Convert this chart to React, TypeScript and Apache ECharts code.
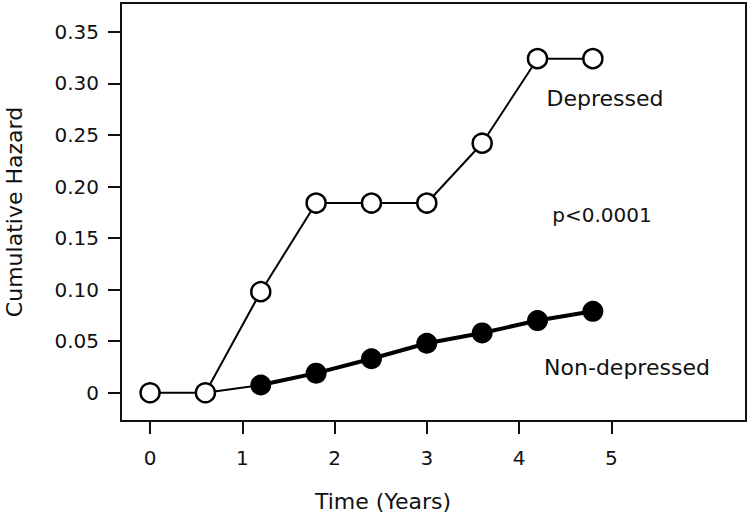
import React, { useEffect, useRef } from "react";
import * as echarts from "echarts";

const times = [0, 0.6, 1.2, 1.8, 2.4, 3.0, 3.6, 4.2, 4.8];
const depressed = [0, 0, 0.098, 0.184, 0.184, 0.184, 0.242, 0.324, 0.324];
const nonDepressed = [0, 0, 0.0075, 0.019, 0.033, 0.048, 0.058, 0.07, 0.079];
const xTicks = [0, 1, 2, 3, 4, 5];
const yTicks = [0, 0.05, 0.1, 0.15, 0.2, 0.25, 0.3, 0.35];
const labels = { depressed: "Depressed", nonDepressed: "Non-depressed", pValue: "p<0.0001" };
const axisNames = { x: "Time (Years)", y: "Cumulative Hazard" };

const FONT = "DejaVu Sans";
const X_MIN = -0.315;
const X_MAX = 6.46;
const Y_MIN = -0.0274;
const Y_MAX = 0.378;

if (typeof document !== "undefined") {
  document.body.style.margin = "0";
}

export default function App() {
  const ref = useRef<HTMLDivElement>(null);
  useEffect(() => {
    document.body.style.margin = "0";
    if (!ref.current) return;
    const chart = echarts.init(ref.current, null, { renderer: "svg" });
    const pts = (vals: number[], from: number, to: number) =>
      times.slice(from, to).map((t, i) => [t, vals[from + i]]);
    chart.setOption({
      animation: false,
      backgroundColor: "#fff",
      textStyle: { fontFamily: FONT },
      grid: {
        left: 121,
        right: 4,
        top: 3,
        bottom: 98,
        show: true,
        borderWidth: 2,
        borderColor: "#111",
        backgroundColor: "transparent",
        z: 10,
      },
      xAxis: {
        type: "value",
        min: X_MIN,
        max: X_MAX,
        splitLine: { show: false },
        axisLine: { onZero: false, lineStyle: { color: "#111", width: 2 } },
        axisTick: { customValues: xTicks, length: 13, lineStyle: { color: "#111", width: 2 } },
        axisLabel: {
          customValues: xTicks,
          margin: 27,
          fontSize: 20,
          color: "#111",
          fontFamily: FONT,
        },
      },
      yAxis: {
        type: "value",
        min: Y_MIN,
        max: Y_MAX,
        splitLine: { show: false },
        axisLine: { onZero: false, lineStyle: { color: "#111", width: 2 } },
        axisTick: { customValues: yTicks, length: 13, lineStyle: { color: "#111", width: 2 } },
        axisLabel: {
          customValues: yTicks,
          margin: 22,
          fontSize: 20,
          color: "#111",
          fontFamily: FONT,
          formatter: (v: number) => (v === 0 ? "0" : v.toFixed(2)),
        },
      },
      series: [
        {
          type: "line",
          data: pts(nonDepressed, 1, 3),
          symbol: "none",
          lineStyle: { color: "#000", width: 2 },
          z: 2,
        },
        {
          type: "line",
          name: labels.nonDepressed,
          data: pts(nonDepressed, 2, times.length),
          symbol: "circle",
          symbolSize: 21,
          itemStyle: { color: "#000" },
          lineStyle: { color: "#000", width: 4 },
          z: 3,
        },
        {
          type: "line",
          name: labels.depressed,
          data: pts(depressed, 0, times.length),
          symbol: "circle",
          symbolSize: 19,
          itemStyle: { color: "#fff", borderColor: "#000", borderWidth: 2.5 },
          lineStyle: { color: "#000", width: 2 },
          z: 4,
        },
      ],
      graphic: [
        {
          type: "text",
          x: 605,
          y: 98,
          style: { text: labels.depressed, font: `22px "${FONT}"`, fill: "#111", align: "center", verticalAlign: "middle" },
        },
        {
          type: "text",
          x: 602,
          y: 215,
          style: { text: labels.pValue, font: `20px "${FONT}"`, fill: "#111", align: "center", verticalAlign: "middle" },
        },
        {
          type: "text",
          x: 627,
          y: 367,
          style: { text: labels.nonDepressed, font: `22px "${FONT}"`, fill: "#111", align: "center", verticalAlign: "middle" },
        },
        {
          type: "text",
          x: 383,
          y: 501,
          style: { text: axisNames.x, font: `22px "${FONT}"`, fill: "#111", align: "center", verticalAlign: "middle" },
        },
        {
          type: "text",
          x: 14,
          y: 212,
          rotation: Math.PI / 2,
          style: { text: axisNames.y, font: `22px "${FONT}"`, fill: "#111", align: "center", verticalAlign: "middle" },
        },
      ],
    });
    return () => chart.dispose();
  }, []);
  return <div ref={ref} style={{ width: 750, height: 519 }} />;
}
